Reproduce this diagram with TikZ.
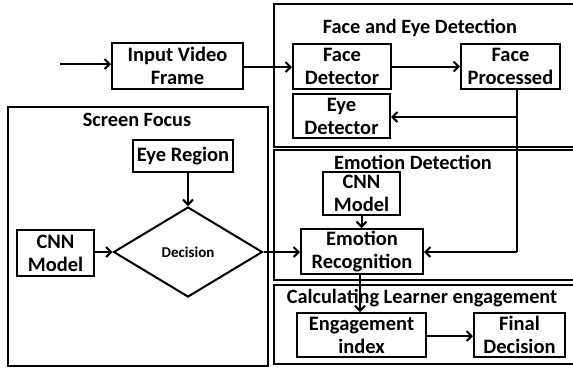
\documentclass[tikz,border=0pt]{standalone}
\usepackage{fontspec}
\setmainfont{Carlito}
\usetikzlibrary{arrows.meta,shapes.geometric}
\begin{document}
\begin{tikzpicture}[x=1pt,y=-1pt,
  every node/.style={font=\bfseries\fontsize{20.5}{23}\selectfont},
  box/.style={draw,line width=2pt,align=center,inner sep=0pt},
  frame/.style={draw,line width=2.4pt,inner sep=0pt},
  ttl/.style={font=\bfseries\fontsize{20.3}{23}\selectfont,inner sep=0pt},
  arr/.style={line width=2pt,-{Straight Barb[length=5pt,width=10pt,line width=2pt]}},
  ln/.style={line width=2pt}]
\useasboundingbox (0,0) rectangle (573,368);
\clip (0,0) rectangle (573,368);
\fill[white] (0,0) rectangle (573,368);
% frames
\node[frame,minimum width=311pt,minimum height=143pt] (fre) at (429.5,75.5) {};
\node[frame,minimum width=311pt,minimum height=130pt] (fem) at (429.5,215) {};
\node[frame,minimum width=311pt,minimum height=79pt] (fcl) at (429.5,324.5) {};
\node[frame,minimum width=260pt,minimum height=259pt] (fsf) at (138,236.5) {};
% titles
\node[ttl] (t1) at (420,28) {Face and Eye Detection};
\node[ttl] (t2) at (413,162) {Emotion Detection};
\node[ttl] (t3) at (422,298) {Calculating Learner engagement};
\node[ttl] (t4) at (137,120) {Screen Focus};
% boxes
\node[box,minimum width=131pt,minimum height=46pt] (ivf) at (177.5,66) {Input Video\\Frame};
\node[box,minimum width=98pt,minimum height=45pt] (fd) at (342,66.5) {Face\\Detector};
\node[box,minimum width=99pt,minimum height=45pt] (fp) at (510.5,66.5) {Face\\Processed};
\node[box,minimum width=97pt,minimum height=44pt] (ed) at (341.5,116) {Eye\\Detector};
\node[box,minimum width=100pt,minimum height=32pt] (er) at (183,156) {Eye Region};
\node[draw,diamond,line width=2pt,aspect=1.66,minimum width=149pt,minimum height=90pt,inner sep=0pt,font=\bfseries\fontsize{15}{18}\selectfont] (dec) at (188,252) {Decision};
\node[box,minimum width=77pt,minimum height=46pt] (cnn1) at (55.5,253) {CNN\\Model};
\node[box,minimum width=77pt,minimum height=43pt] (cnn2) at (361.5,193.5) {CNN\\Model};
\node[box,minimum width=122pt,minimum height=45pt] (emr) at (362,251.5) {Emotion\\Recognition};
\node[box,minimum width=129pt,minimum height=44pt] (eng) at (361.5,335) {Engagement\\index};
\node[box,minimum width=91pt,minimum height=44pt] (fin) at (519.5,335) {Final\\Decision};
% connectors
\coordinate (in) at (60,64);
\coordinate (c1) at (517,117);
\coordinate (c2) at (517,252);
\draw[arr] (in) -- (in -| ivf.west);
\draw[arr] (ivf.east |- 0,67) -- (fd.west |- 0,67);
\draw[arr] (fd.east) -- (fp.west);
\draw[ln] (fp.south -| c1) -- (c2);
\draw[arr] (c1) -- (c1 -| ed.east);
\draw[arr] (c2) -- (c2 -| emr.east);
\draw[arr] (er.south -| dec.north) -- (dec.north);
\draw[arr] (cnn1.east |- dec.west) -- (dec.west);
\draw[arr] (dec.east) -- (dec.east -| emr.west);
\draw[arr] (cnn2.south) -- (emr.north -| cnn2.south);
\draw[arr] (emr.south -| 360,0) -- (eng.north -| 360,0);
\draw[arr] (eng.east |- 0,336) -- (fin.west |- 0,336);
\end{tikzpicture}
\end{document}
